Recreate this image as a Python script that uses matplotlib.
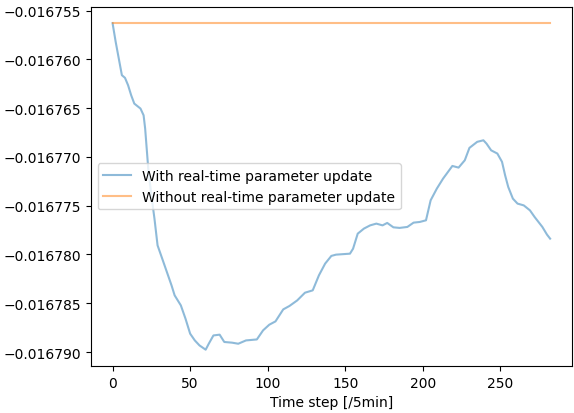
import matplotlib
import matplotlib.pyplot as plt

matplotlib.use('Agg')

# values
steps = [0, 2, 4, 6, 8, 10, 12, 14, 18, 20, 21, 22, 23, 25, 27, 29, 32, 35, 38, 40,
         44, 47, 50, 53, 56, 60, 62, 65, 69, 72, 77, 81, 86, 93, 97, 101, 105, 110,
         114, 119, 124, 129, 133, 137, 141, 144, 153, 155, 158, 162, 166, 170, 174,
         177, 181, 185, 190, 194, 198, 202, 205, 209, 213, 219, 223, 227, 230, 235,
         239, 241, 244, 248, 251, 253, 255, 258, 261, 265, 269, 272, 277, 280, 282]

with_update = [-0.0167563, -0.01675821, -0.01675992, -0.01676163, -0.0167619,
               -0.01676266, -0.01676369, -0.01676454, -0.01676505, -0.01676574,
               -0.0167671, -0.01676915, -0.0167712, -0.01677394, -0.01677633,
               -0.01677907, -0.01678043, -0.0167818, -0.01678317, -0.01678419,
               -0.01678522, -0.01678658, -0.01678812, -0.01678881, -0.01678932,
               -0.01678976, -0.01678915, -0.0167883, -0.01678822, -0.01678897,
               -0.01678904, -0.01678915, -0.01678881, -0.01678871, -0.01678778,
               -0.0167872, -0.01678686, -0.01678563, -0.01678528, -0.01678471,
               -0.01678392, -0.01678368, -0.01678214, -0.01678094, -0.01678015,
               -0.01678002, -0.01677992, -0.01677941, -0.01677787, -0.01677735,
               -0.01677702, -0.01677684, -0.01677702, -0.01677677, -0.01677722,
               -0.01677728, -0.01677718, -0.01677674, -0.01677667, -0.0167765,
               -0.01677445, -0.01677325, -0.01677223, -0.01677093, -0.0167711,
               -0.01677035, -0.01676908, -0.01676846, -0.0167683, -0.01676864,
               -0.01676933, -0.01676966, -0.01677051, -0.01677189, -0.01677308,
               -0.01677428, -0.01677479, -0.01677497, -0.01677548, -0.01677616,
               -0.01677718, -0.01677797, -0.01677838]

without_value = -0.0167563
without_update = [without_value] * len(steps)

labels = ['With real-time parameter update', 'Without real-time parameter update']

fig, ax = plt.subplots(figsize=(5.74, 4.14), dpi=100)
fig.subplots_adjust(left=0.158, right=0.9965, top=0.981, bottom=0.1135)

ax.plot(steps, with_update, color='tab:blue', alpha=0.5, label=labels[0])
ax.plot(steps, without_update, color='tab:orange', alpha=0.5, label=labels[1])

ax.ticklabel_format(axis='y', useOffset=False, style='plain')
ax.set_xlabel('Time step [/5min]')
ax.legend(loc='center left')

fig.savefig('out.png')
